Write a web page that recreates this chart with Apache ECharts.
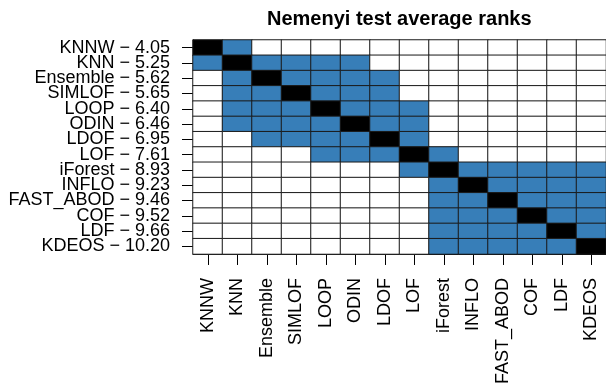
<!DOCTYPE html>
<html>
<head>
<meta charset="utf-8">
<script src="https://cdn.jsdelivr.net/npm/echarts@6/dist/echarts.min.js"></script>
<style>
  html, body { margin: 0; padding: 0; background: #fff; }
  #chart { width: 606px; height: 387px; }
</style>
</head>
<body>
<div id="chart"></div>
<script>
// Methods in order of their Nemenyi average rank
const methods = ['KNNW', 'KNN', 'Ensemble', 'SIMLOF', 'LOOP', 'ODIN', 'LDOF',
                 'LOF', 'iForest', 'INFLO', 'FAST_ABOD', 'COF', 'LDF', 'KDEOS'];
const avgRanks = ['4.05', '5.25', '5.62', '5.65', '6.40', '6.46', '6.95',
                  '7.61', '8.93', '9.23', '9.46', '9.52', '9.66', '10.20'];

// For each method: indices of methods NOT significantly different from it
const notDifferent = [
  [1],
  [0, 2, 3, 4, 5],
  [1, 3, 4, 5, 6],
  [1, 2, 4, 5, 6],
  [1, 2, 3, 5, 6, 7],
  [1, 2, 3, 4, 6, 7],
  [2, 3, 4, 5, 7],
  [4, 5, 6, 8],
  [7, 9, 10, 11, 12, 13],
  [8, 10, 11, 12, 13],
  [8, 9, 11, 12, 13],
  [8, 9, 10, 12, 13],
  [8, 9, 10, 11, 13],
  [8, 9, 10, 11, 12]
];

const rowLabels = methods.map((m, i) => m + ' \u2212 ' + avgRanks[i]);

// cell value: 2 = diagonal, 1 = not significantly different, 0 = different
const cells = [];
for (let r = 0; r < methods.length; r++) {
  for (let c = 0; c < methods.length; c++) {
    let v = 0;
    if (r === c) v = 2;
    else if (notDifferent[r].indexOf(c) >= 0) v = 1;
    cells.push([c, r, v]);
  }
}

const font = '"Liberation Sans", Arial, Helvetica, sans-serif';
const chart = echarts.init(document.getElementById('chart'), null, { renderer: 'canvas' });
chart.setOption({
  animation: false,
  backgroundColor: '#ffffff',
  title: {
    text: 'Nemenyi test average ranks',
    left: 262,
    top: 4,
    textStyle: { fontFamily: font, fontSize: 20, fontWeight: 'bold', color: '#000' }
  },
  grid: { left: 193, top: 40, width: 420, height: 216, containLabel: false },
  xAxis: {
    type: 'category',
    data: methods,
    position: 'bottom',
    axisLine: { show: true, lineStyle: { color: '#000', width: 1 } },
    axisTick: { show: true, alignWithLabel: true, length: 11, lineStyle: { color: '#000', width: 1 } },
    axisLabel: { rotate: 90, margin: 24, interval: 0, fontFamily: font, fontSize: 18, color: '#000' },
    splitLine: { show: false }
  },
  yAxis: {
    type: 'category',
    data: rowLabels,
    inverse: true,
    axisLine: { show: true, lineStyle: { color: '#000', width: 1 } },
    axisTick: { show: true, alignWithLabel: true, length: 11, lineStyle: { color: '#000', width: 1 } },
    axisLabel: { margin: 23, interval: 0, fontFamily: font, fontSize: 18, color: '#000' },
    splitLine: { show: false }
  },
  visualMap: {
    show: false,
    type: 'piecewise',
    dimension: 2,
    pieces: [
      { value: 0, color: '#ffffff' },
      { value: 1, color: '#377EB8' },
      { value: 2, color: '#000000' }
    ]
  },
  series: [{
    type: 'heatmap',
    data: cells,
    itemStyle: { borderColor: '#1a1a1a', borderWidth: 1 },
    emphasis: { disabled: true }
  }]
});
</script>
</body>
</html>
